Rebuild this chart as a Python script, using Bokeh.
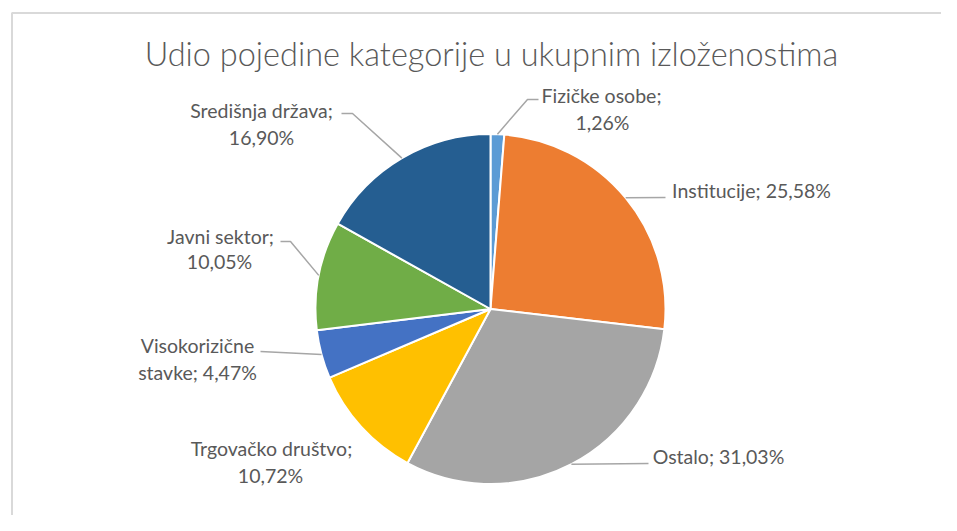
import numpy as np
from bokeh.plotting import figure
from bokeh.models import Range1d, ColumnDataSource
from bokeh.core.properties import value
from bokeh.embed import file_html
from bokeh.resources import INLINE

# ---------------- data ----------------
title = "Udio pojedine kategorije u ukupnim izloženostima"
categories = ["Fizičke osobe", "Institucije", "Ostalo", "Trgovačko društvo",
              "Visokorizične stavke", "Javni sektor", "Središnja država"]
shares = [1.26, 25.58, 31.03, 10.72, 4.47, 10.05, 16.90]
colors = ["#5B9BD5", "#ED7D31", "#A5A5A5", "#FFC000", "#4472C4", "#70AD47", "#255E91"]

# ---------------- layout (page pixels) ----------------
W, H = 941, 515
OFF = 0
def px(X):
    return X - OFF
def py(Y):
    return (H + OFF) - Y

CX, CY, R = 490, 308.5, 175
# how each label is wrapped
wrap = ["semi", None, None, "semi", "word", "semi", "semi"]
# centre of each label line (page px)
label_pos = [
    [(601, 95), (602, 122)],
    [(751, 190)],
    [(718, 456)],
    [(271, 448), (270, 475)],
    [(197, 345), (197, 372)],
    [(220, 236), (219, 261)],
    [(261, 110), (261, 137)],
]
# leader lines: extra points after the slice edge point (None = no leader)
leader_pts = [
    [(527, 99), (538, 99)],
    [(665, 197)],
    [(648, 463)],
    None,
    [(260, 351)],
    [(290, 241), (280, 241)],
    [(352, 113), (341, 113)],
]

p = figure(width=W, height=H, output_backend="svg", toolbar_location=None,
           x_range=Range1d(0, W), y_range=Range1d(0, H), min_border=0)
p.axis.visible = False
p.grid.visible = False
p.outline_line_color = None
p.background_fill_color = "white"
p.border_fill_color = "white"

# chart-area frame
p.line([px(11.5), px(11.5), px(960)], [py(540), py(12.5), py(12.5)],
       line_color="#d9d9d9", line_width=2)

# pie
vals = np.array(shares, dtype=float)
frac = vals / vals.sum()
cum_end = np.cumsum(frac)
cum_start = cum_end - frac
start_ang = np.pi / 2 - 2 * np.pi * cum_end
end_ang = np.pi / 2 - 2 * np.pi * cum_start
src = ColumnDataSource(dict(x=[px(CX)] * len(vals), y=[py(CY)] * len(vals),
                            s=start_ang, e=end_ang, c=colors))
p.wedge(x="x", y="y", radius=R, start_angle="s", end_angle="e",
        fill_color="c", line_color="white", line_width=2, source=src)

# leader lines
mid = (cum_start + cum_end) / 2
for i, pts in enumerate(leader_pts):
    if pts is None:
        continue
    a = 2 * np.pi * mid[i]
    sx = CX + R * np.sin(a)
    sy = CY - R * np.cos(a)
    xs = [px(sx)] + [px(q[0]) for q in pts]
    ys = [py(sy)] + [py(q[1]) for q in pts]
    p.line(xs, ys, line_color="#a6a6a6", line_width=1.5)

# labels
def fmt(v):
    return f"{v:.2f}".replace(".", ",") + "%"

tx, ty, tt = [], [], []
for i, cat in enumerate(categories):
    full = f"{cat}; {fmt(shares[i])}"
    if wrap[i] == "semi":
        lines = [f"{cat};", fmt(shares[i])]
    elif wrap[i] == "word":
        first, rest = full.split(" ", 1)
        lines = [first, rest]
    else:
        lines = [full]
    for ln, (X, Y) in zip(lines, label_pos[i]):
        tx.append(px(X)); ty.append(py(Y)); tt.append(ln)
p.text(x=tx, y=ty, text=tt, text_align="center", text_baseline="middle",
       text_font=value("Lato"), text_font_size="19.5px", text_color="#595959")

# title
p.text(x=[px(491)], y=[py(53)], text=[title], text_align="center",
       text_baseline="middle", text_font=value("Lato Light"), text_font_size="32.5px",
       text_color="#595959")

open("out.html", "w").write(file_html(p, INLINE))
